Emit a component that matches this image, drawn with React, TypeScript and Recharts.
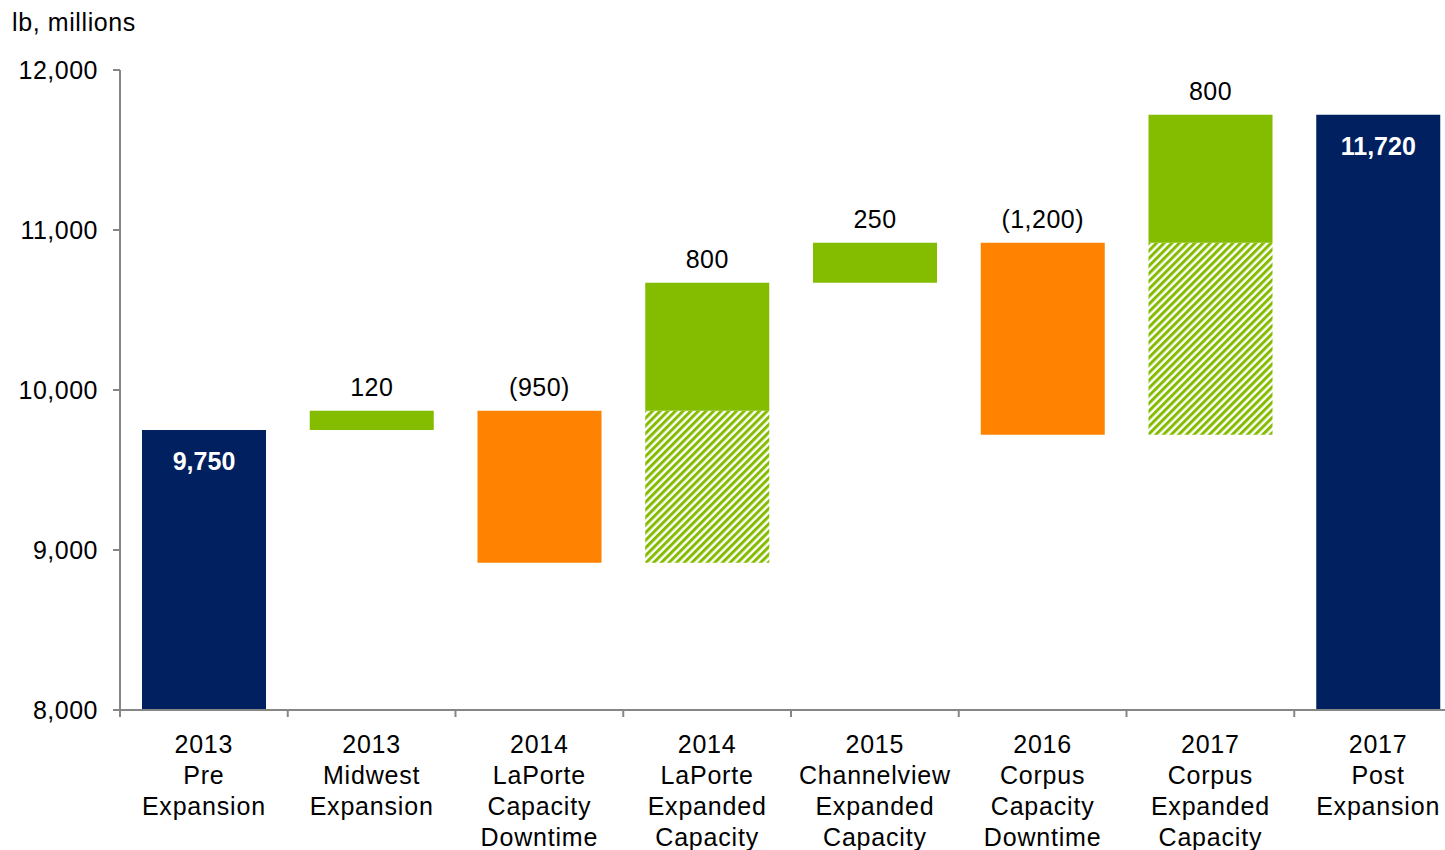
import { BarChart, Bar, XAxis, YAxis, LabelList } from 'recharts';

const categories = [
  '2013\nPre\nExpansion',
  '2013\nMidwest\nExpansion',
  '2014\nLaPorte\nCapacity\nDowntime',
  '2014\nLaPorte\nExpanded\nCapacity',
  '2015\nChannelview\nExpanded\nCapacity',
  '2016\nCorpus\nCapacity\nDowntime',
  '2017\nCorpus\nExpanded\nCapacity',
  '2017\nPost\nExpansion',
];

const startValue = 9750;
// middle steps (categories 2..7)
const changes = [120, -950, 800, 250, -1200, 800];
// downtime capacity that comes back with the expansion (hatched part)
const restored = [0, 0, 950, 0, 0, 1200];
const endValue = 11720;

const yTicks = [8000, 9000, 10000, 11000, 12000];

const NAVY = '#002060';
const GREEN = '#84BC00';
const ORANGE = '#FF8200';
const AXIS = '#868686';
const FONT = '"Liberation Sans", Arial, sans-serif';

const CHART_W = 1470;
const CHART_H = 850;
const MARGIN = { top: 70, right: 8, left: 0, bottom: 0 };
const Y_AXIS_W = 120;
const X_AXIS_H = 140;
const AXIS_Y = CHART_H - MARGIN.bottom - X_AXIS_H;
const BAND = (CHART_W - MARGIN.left - MARGIN.right - Y_AXIS_W) / categories.length;

const fmt = (v: number) => v.toLocaleString('en-US');

type Row = {
  name: string;
  base: number;
  hatch: number;
  down: number;
  total: number;
  up: number;
  upLabel?: string;
  downLabel?: string;
  inside?: string;
};

function buildRows(): Row[] {
  const rows: Row[] = [];
  rows.push({ name: categories[0], base: 0, hatch: 0, down: 0, total: startValue, up: 0, inside: fmt(startValue) });
  let running = startValue;
  changes.forEach((c, i) => {
    const name = categories[i + 1];
    if (c < 0) {
      running += c;
      rows.push({ name, base: running, hatch: 0, down: -c, total: 0, up: 0, downLabel: `(${fmt(-c)})` });
    } else {
      rows.push({ name, base: running, hatch: restored[i], down: 0, total: 0, up: c, upLabel: fmt(c) });
      running += restored[i] + c;
    }
  });
  rows.push({ name: categories[categories.length - 1], base: 0, hatch: 0, down: 0, total: endValue, up: 0, inside: fmt(endValue) });
  return rows;
}

const data = buildRows();

const CategoryTick = (props: any) => {
  const { x, payload, index } = props;
  const lines = String(payload.value).split('\n');
  const last = index === categories.length - 1;
  return (
    <g>
      <line x1={x - BAND / 2} x2={x - BAND / 2} y1={AXIS_Y} y2={AXIS_Y + 7} stroke={AXIS} strokeWidth={2} />
      {last && <line x1={x + BAND / 2} x2={x + BAND / 2} y1={AXIS_Y} y2={AXIS_Y + 7} stroke={AXIS} strokeWidth={2} />}
      <text x={x} textAnchor="middle" fontSize={25} fontFamily={FONT} fill="#000" letterSpacing={0.8}>
        {lines.map((l, i) => (
          <tspan key={i} x={x} y={AXIS_Y + 43 + i * 31}>
            {l}
          </tspan>
        ))}
      </text>
    </g>
  );
};

const TopLabel = (props: any) => {
  const { x, y, width, value } = props;
  if (!value) return null;
  return (
    <text x={x + width / 2} y={y - 15} textAnchor="middle" fontSize={25} fontFamily={FONT} fill="#000" letterSpacing={0.5}>
      {value}
    </text>
  );
};

const InsideLabel = (props: any) => {
  const { x, y, width, value } = props;
  if (!value) return null;
  return (
    <text x={x + width / 2} y={y + 40} textAnchor="middle" fontSize={25} fontWeight="bold" fontFamily={FONT} fill="#fff">
      {value}
    </text>
  );
};

export default function App() {
  return (
    <div style={{ position: 'fixed', left: 0, top: 0, width: 1445, height: 850, overflow: 'hidden', background: '#fff' }}>
      <div
        style={{
          position: 'absolute',
          left: 12,
          top: 7,
          fontFamily: FONT,
          fontSize: 25,
          lineHeight: '30px',
          letterSpacing: 0.6,
          color: '#000',
        }}
      >
        lb, millions
      </div>
      <BarChart width={CHART_W} height={CHART_H} data={data} margin={MARGIN} barSize={124}>
        <defs>
          <pattern id="hatch" patternUnits="userSpaceOnUse" width="5.4" height="5.4" patternTransform="rotate(45)">
            <rect width="5.4" height="5.4" fill="#fff" />
            <rect width="3" height="5.4" fill={GREEN} />
          </pattern>
        </defs>
        <XAxis
          dataKey="name"
          height={X_AXIS_H}
          interval={0}
          tickLine={false}
          axisLine={{ stroke: AXIS, strokeWidth: 2 }}
          tick={<CategoryTick />}
        />
        <YAxis
          width={Y_AXIS_W}
          domain={[8000, 12000]}
          ticks={yTicks}
          allowDataOverflow
          tickSize={7}
          tickMargin={15}
          tickLine={{ stroke: AXIS, strokeWidth: 2 }}
          axisLine={{ stroke: AXIS, strokeWidth: 2 }}
          tick={{ fontSize: 25, fill: '#000', fontFamily: FONT, letterSpacing: 0.5 }}
          tickFormatter={(v: number) => fmt(v)}
        />
        <Bar dataKey="base" stackId="w" fill="transparent" isAnimationActive={false} />
        <Bar dataKey="hatch" stackId="w" fill="url(#hatch)" isAnimationActive={false} />
        <Bar dataKey="down" stackId="w" fill={ORANGE} isAnimationActive={false}>
          <LabelList dataKey="downLabel" content={<TopLabel />} />
        </Bar>
        <Bar dataKey="total" stackId="w" fill={NAVY} isAnimationActive={false}>
          <LabelList dataKey="inside" content={<InsideLabel />} />
        </Bar>
        <Bar dataKey="up" stackId="w" fill={GREEN} isAnimationActive={false}>
          <LabelList dataKey="upLabel" content={<TopLabel />} />
        </Bar>
      </BarChart>
    </div>
  );
}
